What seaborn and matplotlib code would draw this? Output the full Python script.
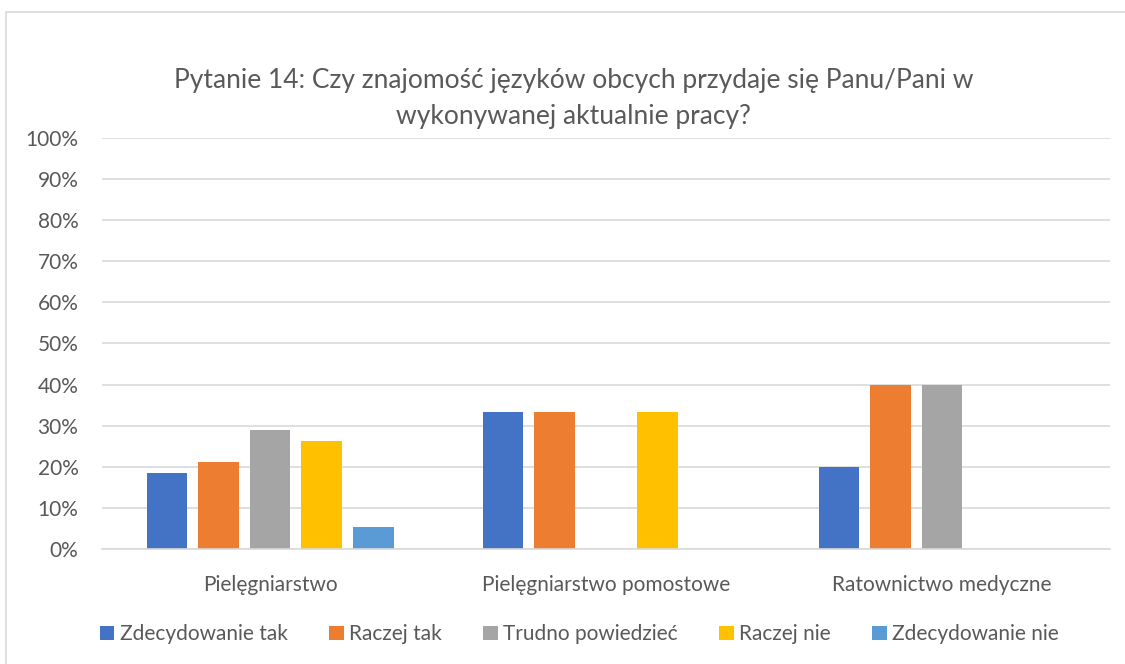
import pandas as pd
import matplotlib
matplotlib.use("Agg")
import matplotlib.pyplot as plt
import seaborn as sns
from matplotlib.patches import Rectangle
from matplotlib.ticker import PercentFormatter

kategorie = ["Pielęgniarstwo", "Pielęgniarstwo pomostowe", "Ratownictwo medyczne"]
odpowiedzi = ["Zdecydowanie tak", "Raczej tak", "Trudno powiedzieć", "Raczej nie", "Zdecydowanie nie"]
zdecydowanie_tak = [0.184, 0.333, 0.20]
raczej_tak = [0.211, 0.333, 0.40]
trudno_powiedziec = [0.289, 0.0, 0.40]
raczej_nie = [0.263, 0.333, 0.0]
zdecydowanie_nie = [0.053, 0.0, 0.0]
kolory = ["#4472C4", "#ED7D31", "#A5A5A5", "#FFC000", "#5B9BD5"]
tytul = ["Pytanie 14: Czy znajomość języków obcych przydaje się Panu/Pani w",
         "wykonywanej aktualnie pracy?"]

serie = [zdecydowanie_tak, raczej_tak, trudno_powiedziec, raczej_nie, zdecydowanie_nie]
rows = []
for odp, vals in zip(odpowiedzi, serie):
    for kat, v in zip(kategorie, vals):
        rows.append({"kategoria": kat, "odpowiedz": odp, "wartosc": v})
df = pd.DataFrame(rows)

sns.set_style("white")
plt.rcParams["font.family"] = ["Lato", "DejaVu Sans"]
szary = "#595959"

fig = plt.figure(figsize=(11.25, 6.64), dpi=100)
fig.patches.append(Rectangle((6 / 1125, -0.1), 1.2, 1 - 12 / 664 + 0.1, transform=fig.transFigure,
                             fill=False, edgecolor="#D9D9D9", linewidth=1.2))
ax = fig.add_axes([0.0907, 0.1732, 0.896, 0.619])

sns.barplot(data=df, x="kategoria", y="wartosc", hue="odpowiedz", hue_order=odpowiedzi,
            order=kategorie, palette=kolory, saturation=1, width=0.768, gap=0.213, linewidth=0,
            errorbar=None, ax=ax)

ax.set_ylim(0, 1)
ax.set_yticks([i / 10 for i in range(11)])
ax.yaxis.set_major_formatter(PercentFormatter(1.0, decimals=0))
ax.yaxis.grid(True, color="#D9D9D9", linewidth=1.2)
ax.set_axisbelow(True)
for s in ["top", "right", "left"]:
    ax.spines[s].set_visible(False)
ax.spines["bottom"].set_color("#D9D9D9")
ax.spines["bottom"].set_linewidth(1.2)
ax.tick_params(axis="both", length=0, labelsize=15, labelcolor=szary)
ax.tick_params(axis="x", pad=19)
ax.tick_params(axis="y", pad=17)
ax.set_xlabel("")
ax.set_ylabel("")

ax.legend(loc="center", bbox_to_anchor=(0.515, 0.045), bbox_transform=fig.transFigure,
          ncol=5, frameon=False, fontsize=15, labelcolor=szary, handlelength=0.7,
          handleheight=0.7, handletextpad=0.25, columnspacing=2.0)

fig.text(0.51, 0.8795, tytul[0], ha="center", va="center", fontsize=19, color=szary)
fig.text(0.51, 0.8238, tytul[1], ha="center", va="center", fontsize=19, color=szary)

fig.savefig("out.png", dpi=100)
